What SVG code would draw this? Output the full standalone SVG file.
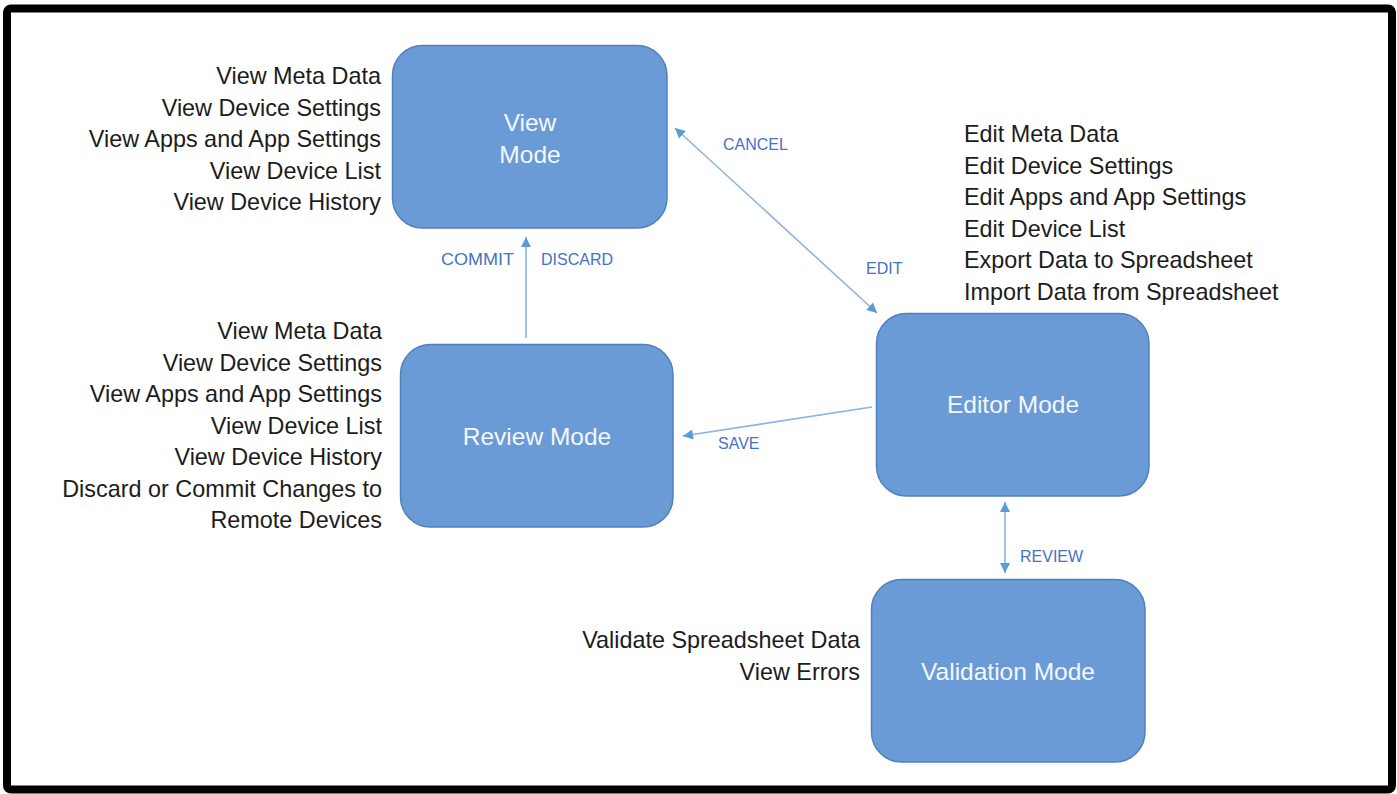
<svg xmlns="http://www.w3.org/2000/svg" width="1397" height="794" viewBox="0 0 1397 794">
  <style>
    .node { fill: #6a9bd6; stroke: #4f81bd; stroke-width: 1.5; }
    .ntext { font-family: "Liberation Sans", Arial, sans-serif; font-size: 24.5px; fill: #f4f7fc; text-anchor: middle; }
    .list { font-family: "Liberation Sans", Arial, sans-serif; font-size: 23.4px; fill: #1c1c1c; }
    .list-r { text-anchor: end; }
    .lbl { font-family: "Liberation Sans", Arial, sans-serif; font-size: 16px; fill: #4472c4; }
    .conn { stroke: #8db3e2; stroke-width: 1.6; fill: none; }
  </style>
  <defs>
    <marker id="arrow" viewBox="0 0 10 10" refX="10" refY="5" markerWidth="11" markerHeight="10" markerUnits="userSpaceOnUse" orient="auto-start-reverse">
      <path d="M0,0 L10,5 L0,10 z" fill="#5b9bd5"/>
    </marker>
  </defs>

  <rect x="0" y="0" width="1397" height="794" fill="#ffffff"/>
  <!-- outer frame -->
  <rect x="7" y="8.5" width="1385" height="781" rx="4" fill="#ffffff" stroke="#000000" stroke-width="8"/>

  <!-- connectors -->
  <g id="connectors">
    <line class="conn" x1="675" y1="128" x2="877" y2="313" marker-start="url(#arrow)" marker-end="url(#arrow)"/>
    <line class="conn" x1="526" y1="338" x2="526" y2="237" marker-end="url(#arrow)"/>
    <line class="conn" x1="872" y1="407" x2="683" y2="436" marker-end="url(#arrow)"/>
    <line class="conn" x1="1005" y1="502" x2="1005" y2="573" marker-start="url(#arrow)" marker-end="url(#arrow)"/>
    <text class="lbl" x="723" y="150">CANCEL</text>
    <text class="lbl" x="866" y="274">EDIT</text>
    <text class="lbl" x="441" y="265" textLength="73" lengthAdjust="spacingAndGlyphs">COMMIT</text>
    <text class="lbl" x="541" y="265">DISCARD</text>
    <text class="lbl" x="718" y="449">SAVE</text>
    <text class="lbl" x="1020" y="562">REVIEW</text>
  </g>

  <!-- View Mode -->
  <g id="view-mode">
    <rect class="node" x="392.5" y="45.5" width="274.5" height="182.5" rx="30"/>
    <text class="ntext" x="530" y="131">View</text>
    <text class="ntext" x="530" y="163">Mode</text>
    <text class="list list-r" x="381" y="84">View Meta Data</text>
    <text class="list list-r" x="381" y="115.5">View Device Settings</text>
    <text class="list list-r" x="381" y="147">View Apps and App Settings</text>
    <text class="list list-r" x="381" y="178.5">View Device List</text>
    <text class="list list-r" x="381" y="210">View Device History</text>
  </g>

  <!-- Review Mode -->
  <g id="review-mode">
    <rect class="node" x="400.5" y="344.5" width="272.5" height="182.5" rx="30"/>
    <text class="ntext" x="537" y="445">Review Mode</text>
    <text class="list list-r" x="382" y="339">View Meta Data</text>
    <text class="list list-r" x="382" y="370.5">View Device Settings</text>
    <text class="list list-r" x="382" y="402">View Apps and App Settings</text>
    <text class="list list-r" x="382" y="433.5">View Device List</text>
    <text class="list list-r" x="382" y="465">View Device History</text>
    <text class="list list-r" x="382" y="496.5">Discard or Commit Changes to</text>
    <text class="list list-r" x="382" y="528">Remote Devices</text>
  </g>

  <!-- Editor Mode -->
  <g id="editor-mode">
    <rect class="node" x="876.5" y="313.5" width="272.5" height="182.5" rx="30"/>
    <text class="ntext" x="1013" y="413">Editor Mode</text>
    <text class="list" x="964" y="142">Edit Meta Data</text>
    <text class="list" x="964" y="173.5">Edit Device Settings</text>
    <text class="list" x="964" y="205">Edit Apps and App Settings</text>
    <text class="list" x="964" y="236.5">Edit Device List</text>
    <text class="list" x="964" y="268">Export Data to Spreadsheet</text>
    <text class="list" x="964" y="299.5">Import Data from Spreadsheet</text>
  </g>

  <!-- Validation Mode -->
  <g id="validation-mode">
    <rect class="node" x="871.5" y="579.5" width="273.5" height="182.5" rx="30"/>
    <text class="ntext" x="1008" y="680">Validation Mode</text>
    <text class="list list-r" x="860" y="648">Validate Spreadsheet Data</text>
    <text class="list list-r" x="860" y="680">View Errors</text>
  </g>
</svg>
